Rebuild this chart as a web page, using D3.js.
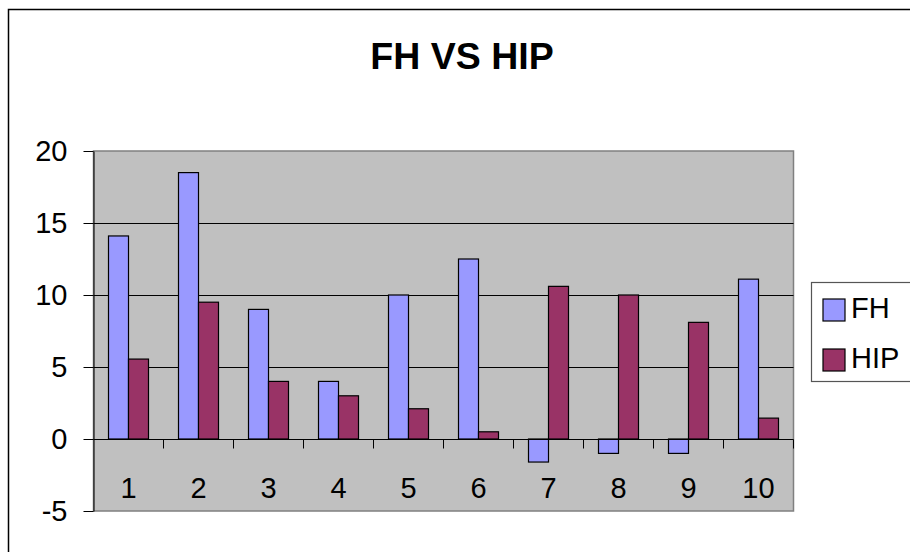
<!DOCTYPE html>
<html>
<head>
<meta charset="utf-8">
<script src="https://cdn.jsdelivr.net/npm/d3@7"></script>
<style>
  body { margin: 0; background: #fff; }
  text { font-family: "Liberation Sans", Arial, sans-serif; }
</style>
</head>
<body>
<div id="chart"></div>
<script>
// chart data
var categories = ["1", "2", "3", "4", "5", "6", "7", "8", "9", "10"];
var seriesNames = ["FH", "HIP"];
var fhValues = [14.1, 18.5, 9.0, 4.0, 10.0, 12.5, -1.6, -1.0, -1.0, 11.1];
var hipValues = [5.55, 9.5, 4.0, 3.0, 2.1, 0.5, 10.6, 10.0, 8.1, 1.45];
var yTicks = [-5, 0, 5, 10, 15, 20];
var colors = { FH: "#9999FF", HIP: "#993366" };

var width = 910, height = 552;
var plot = { left: 93.5, top: 151, right: 793.5, bottom: 511 };

var svg = d3.select("#chart").append("svg")
    .attr("width", width)
    .attr("height", height);

// 外框
svg.append("path")
    .attr("d", "M8.5," + height + "V9.5H" + width)
    .attr("fill", "none")
    .attr("stroke", "#000")
    .attr("stroke-width", 1.5);

// 标题
svg.append("text")
    .attr("x", 462)
    .attr("y", 69)
    .attr("text-anchor", "middle")
    .style("font-size", "37.5px")
    .style("font-weight", "bold")
    .text("FH VS HIP");

var y = d3.scaleLinear().domain([-5, 20]).range([plot.bottom, plot.top]);
var x0 = d3.scaleBand().domain(categories)
    .range([plot.left, plot.right])
    .paddingInner(3 / 7)
    .paddingOuter(3 / 14);
var x1 = d3.scaleBand().domain(seriesNames).range([0, x0.bandwidth()]);

// 绘图区背景
svg.append("rect")
    .attr("x", plot.left)
    .attr("y", plot.top)
    .attr("width", plot.right - plot.left)
    .attr("height", plot.bottom - plot.top)
    .attr("fill", "#C0C0C0")
    .attr("stroke", "#808080")
    .attr("stroke-width", 1.5);

// 网格线
svg.append("g").selectAll("line")
    .data(yTicks.filter(function (d) { return d > 0 && d < 20; }))
    .enter().append("line")
    .attr("x1", plot.left).attr("x2", plot.right)
    .attr("y1", function (d) { return Math.round(y(d)) + 0.5; })
    .attr("y2", function (d) { return Math.round(y(d)) + 0.5; })
    .attr("stroke", "#000");

// 柱子
var rows = categories.map(function (c, i) {
    return { cat: c, vals: [{ s: "FH", v: fhValues[i] }, { s: "HIP", v: hipValues[i] }] };
});
var groups = svg.append("g").selectAll("g")
    .data(rows)
    .enter().append("g")
    .attr("transform", function (d) { return "translate(" + x0(d.cat) + ",0)"; });
groups.selectAll("rect")
    .data(function (d) { return d.vals; })
    .enter().append("rect")
    .attr("x", function (d) { return x1(d.s); })
    .attr("y", function (d) { return y(Math.max(0, d.v)); })
    .attr("width", x1.bandwidth())
    .attr("height", function (d) { return Math.abs(y(d.v) - y(0)); })
    .attr("fill", function (d) { return colors[d.s]; })
    .attr("stroke", "#000")
    .attr("stroke-width", 1.2);

// 零线 + 分类刻度
var zeroY = Math.round(y(0)) + 0.5;
svg.append("line")
    .attr("x1", plot.left).attr("x2", plot.right)
    .attr("y1", zeroY).attr("y2", zeroY)
    .attr("stroke", "#000");
svg.append("g").selectAll("line")
    .data(d3.range(1, categories.length + 1))
    .enter().append("line")
    .attr("x1", function (k) { return plot.left + k * x0.step(); })
    .attr("x2", function (k) { return plot.left + k * x0.step(); })
    .attr("y1", zeroY).attr("y2", zeroY + 9)
    .attr("stroke", "#000");
svg.append("g").selectAll("text")
    .data(categories)
    .enter().append("text")
    .attr("x", function (d) { return x0(d) + x0.bandwidth() / 2; })
    .attr("y", 498)
    .attr("text-anchor", "middle")
    .style("font-size", "29px")
    .text(function (d) { return d; });

// y轴 (用普通连字符做负号)
var yAxis = svg.append("g")
    .attr("transform", "translate(" + plot.left + ",0)")
    .call(d3.axisLeft(y).tickValues(yTicks)
        .tickFormat(function (d) { return String(d); })
        .tickSize(10).tickPadding(16).tickSizeOuter(0));
yAxis.select(".domain").attr("stroke", "#000");
yAxis.selectAll(".tick line").attr("stroke", "#000");
yAxis.selectAll(".tick text")
    .attr("fill", "#000")
    .style("font-size", "29px")
    .style("font-family", "'Liberation Sans', Arial, sans-serif");

// 图例
var legend = svg.append("g");
legend.append("rect")
    .attr("x", 811.5).attr("y", 282.5)
    .attr("width", 120).attr("height", 99)
    .attr("fill", "#fff")
    .attr("stroke", "#555")
    .attr("stroke-width", 1.2);
var items = legend.selectAll("g.item")
    .data(seriesNames)
    .enter().append("g")
    .attr("class", "item")
    .attr("transform", function (d, i) { return "translate(0," + (i * 50) + ")"; });
items.append("rect")
    .attr("x", 823).attr("y", 299)
    .attr("width", 22).attr("height", 22)
    .attr("fill", function (d) { return colors[d]; })
    .attr("stroke", "#000")
    .attr("stroke-width", 1.2);
items.append("text")
    .attr("x", 851).attr("y", 318)
    .style("font-size", "29px")
    .text(function (d) { return d; });
</script>
</body>
</html>
